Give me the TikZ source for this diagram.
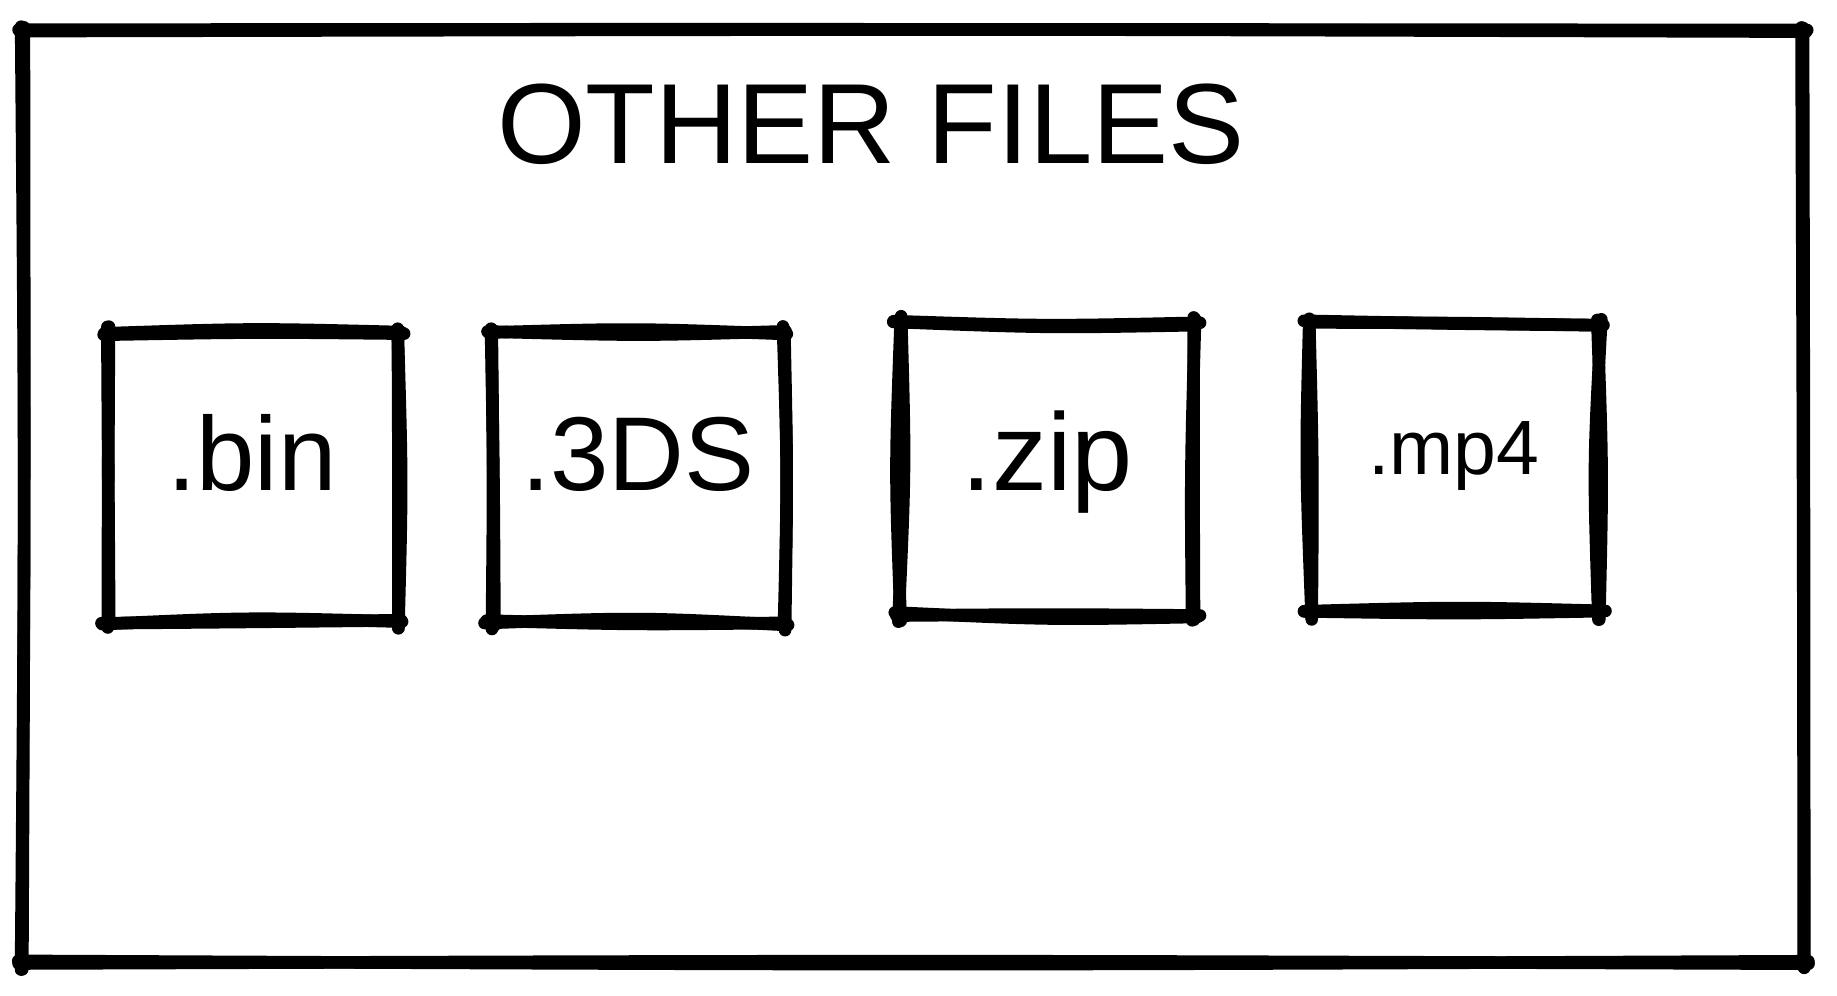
\documentclass[tikz,border=0pt]{standalone}
\usepackage{fontspec}
\setmainfont{Liberation Sans}

\tikzset{
  sketch/.style={line width=6.3pt, line cap=round, line join=round},
  filetext/.style={anchor=base, inner sep=0pt, font=\fontsize{52.5}{56}\selectfont}
}

% one hand drawn side: two strokes, each a little off
\newcommand\roughside[4]{%
  \foreach \k in {1,2}{%
    \pgfmathsetmacro\ja{rand*2.5}\pgfmathsetmacro\jb{rand*2.5}%
    \pgfmathsetmacro\jc{rand*6}\pgfmathsetmacro\jd{rand*6}%
    \pgfmathsetmacro\je{rand*2.5}\pgfmathsetmacro\jf{rand*2.5}%
    \draw[sketch] ({#1+\ja},{#2+\jb}) .. controls ({(#1+#3)/2+\jc},{(#2+#4)/2+\jd}) .. ({#3+\je},{#4+\jf});
  }}
\newcommand\roughbox[4]{%
  \roughside{#1-5}{#2}{#3+5}{#2}%
  \roughside{#3}{#2-5}{#3}{#4+5}%
  \roughside{#3+5}{#4}{#1-5}{#4}%
  \roughside{#1}{#4+5}{#1}{#2-5}}

\begin{document}
\begin{tikzpicture}[x=0.5pt, y=-0.5pt]
\useasboundingbox (0,0) rectangle (1837,996);
\pgfmathsetseed{11}

% frame
\roughbox{23}{31}{1802}{963}
\node[anchor=base, inner sep=0pt, font=\fontsize{57}{60}\selectfont] (title) at (871,163) {OTHER FILES};

% file boxes
\roughbox{107}{333}{397}{622}
\roughbox{492}{333}{783}{623}
\roughbox{900}{323}{1193}{615}
\roughbox{1310}{323}{1599}{613}

\node[filetext] (bin) at (252,490) {.bin};
\node[filetext] (tds) at (638,490) {.3DS};
\node[filetext, font=\fontsize{55}{58}\selectfont] (zip) at (1047,490) {.zip};
\node[filetext, font=\fontsize{38.5}{42}\selectfont] (mp) at (1454,474) {.mp4};
\end{tikzpicture}
\end{document}
